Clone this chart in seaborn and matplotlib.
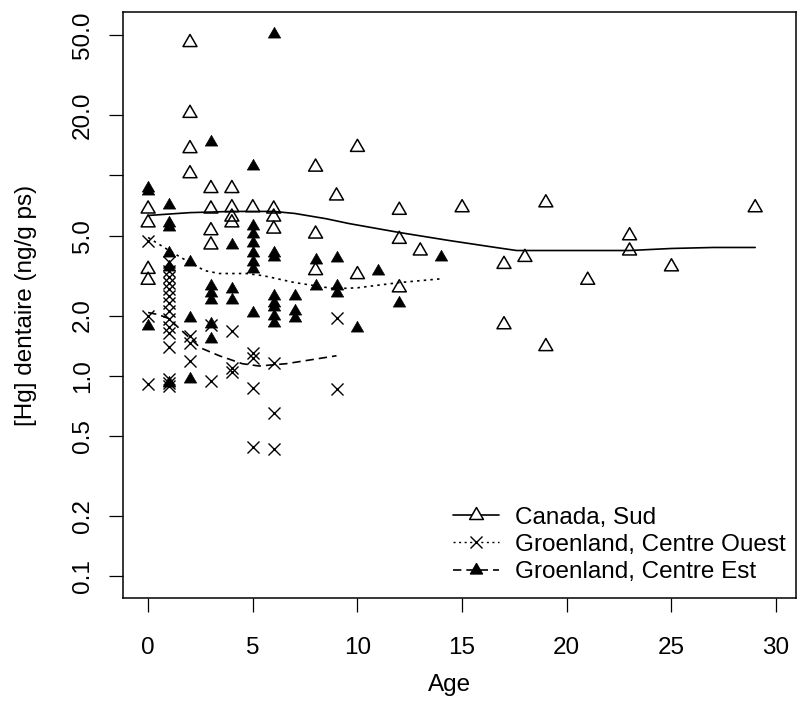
import numpy as np
import pandas as pd
import matplotlib
matplotlib.use("Agg")
import matplotlib.pyplot as plt
from matplotlib.path import Path
from matplotlib.lines import Line2D
from matplotlib.ticker import FixedLocator, NullLocator
import seaborn as sns

# points: Canada, Sud (open triangles)
can_age = [0, 0, 0, 0, 2, 2, 2, 2, 3, 3, 3, 3, 4, 4, 4, 4, 5, 6, 6, 6,
           8, 8, 8, 9, 10, 10, 12, 12, 12, 13, 15, 17, 17, 18, 19, 19,
           21, 23, 23, 25, 29]
can_hg = [6.8, 5.8, 3.4, 3.0, 46.0, 20.4, 13.6, 10.2, 8.6, 6.8, 5.3, 4.5,
          8.6, 6.9, 6.2, 5.8, 6.9, 6.8, 6.2, 5.4, 11.0, 5.1, 3.35, 7.9,
          13.8, 3.2, 6.7, 4.8, 2.75, 4.2, 6.9, 3.6, 1.8, 3.9, 7.3, 1.4,
          3.0, 5.0, 4.2, 3.5, 6.9]

# points: Groenland, Centre Ouest (crosses)
gco_age = [0, 0, 0, 1, 1, 1, 1, 1, 1, 1, 1, 1, 1, 1, 1, 1, 1, 1,
           2, 2, 2, 3, 3, 4, 4, 4, 5, 5, 5, 5, 6, 6, 6, 9, 9]
gco_hg = [4.7, 2.0, 0.91, 3.7, 3.35, 3.1, 2.9, 2.7, 2.5, 2.3, 2.1, 1.93,
          1.76, 1.64, 1.4, 0.97, 0.92, 0.89, 1.58, 1.46, 1.19, 1.8, 0.94,
          1.68, 1.1, 1.05, 1.3, 1.23, 0.87, 0.44, 1.16, 0.65, 0.43,
          1.95, 0.86]

# points: Groenland, Centre Est (filled triangles)
gce_age = [0, 0, 0, 1, 1, 1, 1, 1, 1, 2, 2, 2, 3, 3, 3, 3, 3, 3,
           4, 4, 4, 5, 5, 5, 5, 5, 5, 5, 5, 6, 6, 6, 6, 6, 6, 6, 6,
           7, 7, 7, 8, 8, 9, 9, 9, 10, 11, 12, 14]
gce_hg = [8.7, 8.4, 1.78, 7.1, 5.8, 5.5, 4.1, 3.5, 0.92, 3.7, 1.95, 0.97,
          14.6, 2.8, 2.6, 2.4, 1.82, 1.53, 4.5, 2.7, 2.4, 11.2, 5.6, 5.1,
          4.6, 4.1, 3.7, 3.4, 2.07, 51.0, 4.1, 3.9, 2.5, 2.3, 2.2, 2.0,
          1.84, 2.5, 2.1, 1.95, 3.8, 2.8, 3.85, 2.8, 2.6, 1.74, 3.35, 2.3,
          3.9]

# smoothed curves
solid_age = [0, 2, 4, 6, 7, 8.5, 9.6, 12, 14.4, 16.6, 17.6, 20, 23, 25, 27, 29]
solid_hg = [6.31, 6.52, 6.61, 6.61, 6.46, 6.08, 5.75, 5.19, 4.73, 4.37,
            4.22, 4.22, 4.22, 4.32, 4.37, 4.37]
dot_age = [0, 1, 2, 2.7, 3.4, 4.7, 5.5, 7, 8.9, 10, 12, 14]
dot_hg = [4.9, 4.22, 3.67, 3.35, 3.24, 3.24, 3.16, 2.92, 2.72, 2.75, 2.92, 3.05]
dash_age = [0, 0.5, 1.0, 1.5, 2.5, 3.4, 4.5, 5.3, 6.6, 9]
dash_hg = [2.07, 2.02, 1.93, 1.72, 1.38, 1.26, 1.15, 1.12, 1.15, 1.26]

labels = ["Canada, Sud", "Groenland, Centre Ouest", "Groenland, Centre Est"]
ytick_vals = [0.1, 0.2, 0.5, 1.0, 2.0, 5.0, 10.0, 20.0, 50.0]
ytick_labels = ["0.1", "0.2", "0.5", "1.0", "2.0", "5.0", "", "20.0", "50.0"]
xtick_vals = [0, 5, 10, 15, 20, 25, 30]

sns.set_style("white")
plt.rcParams["font.family"] = ["Liberation Sans", "DejaVu Sans"]
plt.rcParams["text.color"] = "black"
plt.rcParams["axes.labelcolor"] = "black"
plt.rcParams["xtick.color"] = "black"
plt.rcParams["ytick.color"] = "black"
fs = 17.5

# R-like equilateral triangle
h = np.sqrt(3) / 2
tri = Path([(0, 2 * h / 3), (-0.5, -h / 3), (0.5, -h / 3), (0, 2 * h / 3)],
           [Path.MOVETO, Path.LINETO, Path.LINETO, Path.CLOSEPOLY])

fig = plt.figure(figsize=(7.97, 7.15), dpi=100)
ax = fig.add_axes([123 / 797, 117 / 715, 673 / 797, 586 / 715])

can = pd.DataFrame({"age": can_age, "hg": can_hg})
gco = pd.DataFrame({"age": gco_age, "hg": gco_hg})
gce = pd.DataFrame({"age": gce_age, "hg": gce_hg})

sns.scatterplot(data=can, x="age", y="hg", marker=tri, s=135, facecolor="none",
                edgecolor="black", linewidth=1.1, ax=ax, zorder=3)
sns.scatterplot(data=gco, x="age", y="hg", marker="x", s=75, color="black",
                linewidth=1.0, ax=ax, zorder=3)
sns.scatterplot(data=gce, x="age", y="hg", marker=tri, s=105, color="black",
                edgecolor="black", linewidth=0.5, ax=ax, zorder=3)

sns.lineplot(x=solid_age, y=solid_hg, color="black", lw=1.2, ax=ax)
sns.lineplot(x=dot_age, y=dot_hg, color="black", lw=1.2,
             linestyle=(0, (1.5, 2.5)), ax=ax)
sns.lineplot(x=dash_age, y=dash_hg, color="black", lw=1.2,
             linestyle=(0, (5, 3)), ax=ax)

ax.set_yscale("log")
ax.set_xlim(-1.2, 30.95)
ax.set_ylim(10 ** -1.108, 10 ** 1.815)
ax.yaxis.set_major_locator(FixedLocator(ytick_vals))
ax.yaxis.set_minor_locator(NullLocator())
ax.set_yticklabels(ytick_labels, rotation=90, va="center")
ax.set_xticks(xtick_vals)
ax.set_xticklabels([str(v) for v in xtick_vals])
ax.tick_params(direction="out", length=10, width=0.9, labelsize=fs,
               left=True, bottom=True, color="black")
ax.tick_params(axis="y", pad=11)
ax.tick_params(axis="x", pad=18)
for sp in ax.spines.values():
    sp.set_color("black")
    sp.set_linewidth(1.1)

ax.set_xlabel("Age", fontsize=fs)
ax.set_ylabel("[Hg] dentaire (ng/g ps)", fontsize=fs)
ax.xaxis.set_label_coords(0.485, -0.13)
ax.yaxis.set_label_coords(-0.128, 0.5)

handles = [
    Line2D([], [], color="black", lw=1.2, marker=tri, ms=11.5,
           markerfacecolor="white", markeredgewidth=1.1),
    Line2D([], [], color="black", lw=1.0, linestyle=(0, (1.5, 2.5)),
           marker="x", ms=8.5),
    Line2D([], [], color="black", lw=1.2, linestyle=(0, (5, 3)),
           marker=tri, ms=10),
]
ax.legend(handles, labels, loc="lower left", bbox_to_anchor=(0.49, 0.025),
          frameon=False, fontsize=fs, handlelength=1.9, handletextpad=0.65,
          labelspacing=0.22, borderpad=0, borderaxespad=0)

fig.savefig("out.png", dpi=100)
